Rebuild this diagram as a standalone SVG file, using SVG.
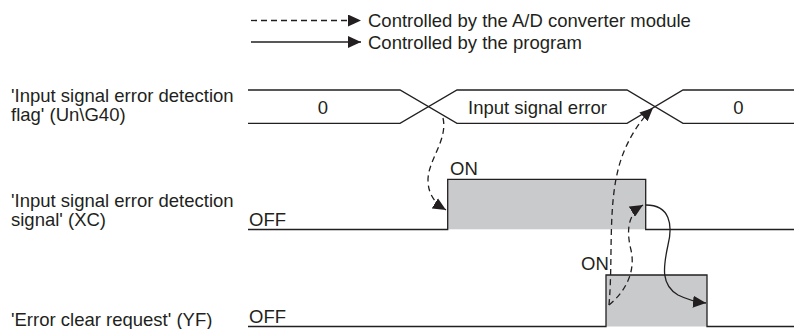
<svg xmlns="http://www.w3.org/2000/svg" width="794" height="329" viewBox="0 0 794 329">
<defs>
<style>
text{font-family:"Liberation Sans",Arial,sans-serif;font-size:18.5px;fill:#231f20}
.ln{fill:none;stroke:#231f20;stroke-width:1.3}
.sig{fill:#c9cacb;stroke:none}
.dash{fill:none;stroke:#231f20;stroke-width:1.3;stroke-dasharray:6 4}
.solid{fill:none;stroke:#231f20;stroke-width:1.3}
</style>
<marker id="ah" markerUnits="userSpaceOnUse" markerWidth="14" markerHeight="12" viewBox="0 0 14 12" refX="13" refY="6" orient="auto">
<path d="M0,0 L13,6 L0,12 Z" fill="#231f20"/>
</marker>
</defs>
<rect width="794" height="329" fill="#fff"/>
<g id="legend">
<line x1="251" y1="20.5" x2="361" y2="20.5" class="dash" stroke-dasharray="4 5" marker-end="url(#ah)"/>
<text x="368" y="27">Controlled by the A/D converter module</text>
<line x1="251" y1="42" x2="361" y2="42" class="solid" marker-end="url(#ah)"/>
<text x="368" y="49">Controlled by the program</text>
</g>
<g id="flag">
<text x="11" y="102">'Input signal error detection</text>
<text x="11" y="121">flag' (Un\G40)</text>
<path class="ln" d="M248 90 H400 L457 123.3 H627 L683 90 H794"/>
<path class="ln" d="M248 123.3 H400 L457 90 H627 L683 123.3 H794"/>
<text x="323" y="113.5" text-anchor="middle">0</text>
<text x="537.5" y="113.5" text-anchor="middle">Input signal error</text>
<text x="738.5" y="113.5" text-anchor="middle">0</text>
</g>
<g id="xc">
<text x="11" y="207">'Input signal error detection</text>
<text x="11" y="226">signal' (XC)</text>
<rect class="sig" x="447.7" y="179.3" width="198" height="50"/>
<path class="ln" d="M248 229.5 H447.7 V179.3 H645.7 V229.5 H794"/>
<text x="249" y="226">OFF</text>
<text x="450" y="175">ON</text>
</g>
<g id="yf">
<text x="11" y="326">'Error clear request' (YF)</text>
<rect class="sig" x="606" y="275" width="101" height="51.5"/>
<path class="ln" d="M248 326.5 H606 V275 H707 V326.5 H794"/>
<text x="249" y="323">OFF</text>
<text x="581" y="270">ON</text>
</g>
<g id="connectors">
<path class="dash" d="M443 118 C448 140 428 160 428 180 C428 195 436 204 446 210" marker-end="url(#ah)"/>
<path class="dash" d="M609 305 C613 260 608 210 618 170 C624 145 638 122 653 108" marker-end="url(#ah)"/>
<path class="dash" d="M609 305 C625 292 636 272 631 250 C626 230 628 214 643 205" marker-end="url(#ah)"/>
<path class="solid" d="M646 205 C670 205 673 225 668 245 C663 268 661 285 678 295 C688 300 696 302 706 303" marker-end="url(#ah)"/>
</g>
</svg>
